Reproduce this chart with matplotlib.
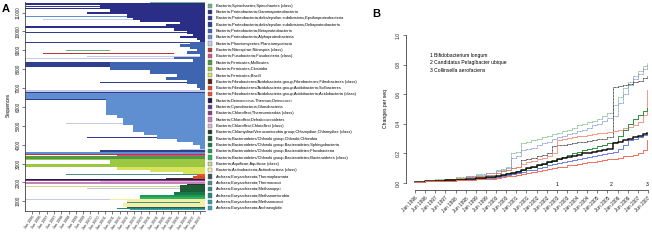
import matplotlib
matplotlib.use("Agg")
import matplotlib.pyplot as plt
from matplotlib.patches import Rectangle

plt.rcParams["font.family"] = ["Liberation Sans", "DejaVu Sans"]

DATE_LABELS = [
    "Jan 1996", "Jun 1996", "Jan 1997", "Jun 1997", "Jan 1998", "Jun 1998",
    "Jan 1999", "Jun 1999", "Jan 2000", "Jun 2000", "Jan 2001", "Jun 2001",
    "Jan 2002", "Jun 2002", "Jan 2003", "Jun 2003", "Jan 2004", "Jun 2004",
    "Jan 2005", "Jun 2005", "Jan 2006", "Jun 2006", "Jan 2007", "Jun 2007",
]

TAXA = [
    "Bacteria;Spirochaetes;Spirochaetes (class)",
    "Bacteria;Proteobacteria;Gammaproteobacteria",
    "Bacteria;Proteobacteria;delta/epsilon subdivisions;Epsilonproteobacteria",
    "Bacteria;Proteobacteria;delta/epsilon subdivisions;Deltaproteobacteria",
    "Bacteria;Proteobacteria;Betaproteobacteria",
    "Bacteria;Proteobacteria;Alphaproteobacteria",
    "Bacteria;Planctomycetes;Planctomycetacia",
    "Bacteria;Nitrospirae;Nitrospira (class)",
    "Bacteria;Fusobacteria;Fusobacteria (class)",
    "Bacteria;Firmicutes;Mollicutes",
    "Bacteria;Firmicutes;Clostridia",
    "Bacteria;Firmicutes;Bacilli",
    "Bacteria;Fibrobacteres/Acidobacteria group;Fibrobacteres;Fibrobacteres (class)",
    "Bacteria;Fibrobacteres/Acidobacteria group;Acidobacteria;Solibacteres",
    "Bacteria;Fibrobacteres/Acidobacteria group;Acidobacteria;Acidobacteria (class)",
    "Bacteria;Deinococcus-Thermus;Deinococci",
    "Bacteria;Cyanobacteria;Gloeobacteria",
    "Bacteria;Chloroflexi;Thermomicrobia (class)",
    "Bacteria;Chloroflexi;Dehalococcoidetes",
    "Bacteria;Chloroflexi;Chloroflexi (class)",
    "Bacteria;Chlamydiae/Verrucomicrobia group;Chlamydiae;Chlamydiae (class)",
    "Bacteria;Bacteroidetes/Chlorobi group;Chlorobi;Chlorobia",
    "Bacteria;Bacteroidetes/Chlorobi group;Bacteroidetes;Sphingobacteria",
    "Bacteria;Bacteroidetes/Chlorobi group;Bacteroidetes;Flavobacteria",
    "Bacteria;Bacteroidetes/Chlorobi group;Bacteroidetes;Bacteroidetes (class)",
    "Bacteria;Aquificae;Aquificae (class)",
    "Bacteria;Actinobacteria;Actinobacteria (class)",
    "Archaea;Euryarchaeota;Thermoplasmata",
    "Archaea;Euryarchaeota;Thermococci",
    "Archaea;Euryarchaeota;Methanopyri",
    "Archaea;Euryarchaeota;Methanomicrobia",
    "Archaea;Euryarchaeota;Methanococci",
    "Archaea;Euryarchaeota;Archaeoglobi",
]

TAXON_COLORS = [
    "#6fb58a", "#2b2e86", "#343a94", "#2d3f8e", "#3f64b0", "#5f8fd1",
    "#c6c8ea", "#b7373c", "#d2508c", "#4f9a45", "#9bc840", "#d7e35a",
    "#5c2418", "#d84a2a", "#e9532f", "#1f1d48", "#5c3c94", "#8b3b8e",
    "#c583b5", "#d7b4da", "#1f3b2d", "#1c5c36", "#19784a", "#1f9a55",
    "#2bb35f", "#c9d787", "#f3f0a3", "#2e5a5c", "#4f8c8a", "#2f8f8f",
    "#1f8a84", "#2c9fb0", "#39a2ae",
]

# panel A: sequence blocks (top, bottom, first date index, taxon), all run to A_END
A_END = 23.7
A_BLOCKS = [
    (11540, 11500, 16.2, 0),
    (11500, 11395, -1, 1), (11395, 11184, 9.3, 1), (11184, 11043, 10.7, 1),
    (11043, 10937, 7.5, 1), (10937, 10725, 13.0, 1), (10725, 10584, 13.9, 1),
    (10584, 10478, 14.8, 1), (10478, 10372, 20.3, 1), (10372, 10160, 18.4, 1),
    (10160, 10020, 19.4, 1), (10020, 9878, 21.2, 1), (9878, 9773, 22.1, 1),
    (9773, 9667, 20.3, 1), (9667, 9561, 22.6, 1), (9561, 9437, 23.0, 1),
    (9437, 9314, 21.6, 4), (9314, 9173, 20.3, 4), (9173, 9067, 21.6, 4),
    (9067, 8961, 22.6, 4), (8961, 8820, 21.2, 4), (8820, 8679, 23.0, 4),
    (8679, 8538, 19.4, 4), (8538, 8397, 22.1, 4), (8397, 7938, 10.7, 4),
    (7938, 7762, 16.2, 4), (7762, 7585, 19.8, 4), (7585, 7409, 18.4, 4),
    (7409, 7232, 21.2, 4), (7232, 7021, 22.6, 4), (7021, 6880, 23.0, 4),
    (6615, 6439, -1, 5), (6439, 5557, 10.2, 5), (5557, 5433, 11.6, 5),
    (5433, 5027, 12.5, 5), (5027, 4675, 13.9, 5), (4675, 4498, 15.3, 5),
    (4498, 4322, 17.1, 5), (4322, 4145, 19.8, 5), (4145, 3969, 22.1, 5),
    (3969, 3793, 23.0, 5),
    (3422, 3246, -1, 9), (3246, 3175, -1, 10), (3175, 2964, 10.7, 10),
    (2964, 2822, -1, 10), (2822, 2681, 11.6, 11), (2681, 2540, 16.2, 11),
    (2540, 2470, 20.7, 11),
    (2470, 2330, 22.6, 14), (2330, 2205, 22.1, 13),
    (1940, 1887, 21.2, 20), (1887, 1499, 20.3, 21), (1499, 1323, 19.4, 22),
    (1323, 1240, 14.8, 23), (1240, 1129, 14.8, 24),
    (1058, 953, 13.0, 26), (920, 706, 12.5, 26),
    (706, 635, 13.0, 27), (635, 582, 11.6, 30), (582, 529, 13.4, 32),
]

# panel A: single long-lived sequences (top, bottom, first index, last index, taxon)
A_LINES = [
    (11330, 11290, -1, 9.3, 2), (11254, 11200, -1, 10.7, 1),
    (11090, 11060, 4.7, 10.7, 6), (10796, 10740, -1, 13.0, 5),
    (10650, 10620, 1.5, 13.9, 6), (10420, 10390, 4.7, 20.3, 3),
    (10266, 10200, -1, 18.4, 1), (10100, 10070, 7.5, 19.4, 6),
    (9950, 9920, -1, 21.2, 3), (9720, 9690, 9.3, 20.3, 6),
    (9437, 9380, -1, 21.6, 3), (9240, 9210, -1, 20.3, 11),
    (9020, 8990, 4.7, 10.7, 0), (8860, 8830, 1.5, 19.4, 7),
    (8700, 8670, 7.5, 23.0, 6), (8580, 8550, -1, 19.4, 6),
    (8397, 8114, -1, 10.7, 3), (7700, 7670, 4.7, 19.8, 6),
    (7300, 7270, 9.3, 21.2, 3),
    (6880, 6800, -1, 23.7, 6), (6800, 6720, -1, 23.7, 3),
    (6720, 6615, -1, 23.7, 5), (6400, 6350, -1, 10.2, 3),
    (5800, 5770, -1, 10.2, 6), (5150, 5120, 4.7, 12.5, 6),
    (4700, 4670, 4.7, 7.5, 6), (4400, 4370, 7.5, 17.1, 2),
    (3793, 3704, 20.3, 23.7, 6), (3704, 3616, 9.3, 23.7, 3),
    (3616, 3528, -1, 23.7, 5), (3528, 3470, -1, 23.7, 7),
    (3470, 3422, 11.6, 23.7, 8), (3100, 3070, -1, 10.7, 11),
    (2470, 2420, 4.7, 22.6, 28), (2240, 2205, 18.4, 22.1, 12),
    (2205, 2152, -1, 23.7, 15), (2152, 2117, 4.7, 23.7, 16),
    (2117, 2082, -1, 23.7, 17), (2082, 2011, 9.3, 23.7, 19),
    (2011, 1940, -1, 23.7, 18), (1799, 1760, -1, 20.3, 25),
    (1700, 1670, 7.5, 20.3, 6), (1620, 1580, 4.7, 20.3, 25),
    (1400, 1370, 1.5, 19.4, 5), (1129, 1090, -1, 10.7, 6),
    (1129, 1090, 10.7, 23.7, 26), (1090, 1058, -1, 23.7, 26),
    (953, 920, 13.0, 23.0, 28), (953, 920, 23.0, 23.7, 26),
]

# panel B: cumulative changes per sequence, x = half-year tick index
B_X = [0, 1, 2, 3, 4, 5, 6, 7, 8, 8.5, 9, 9.5, 10, 10.5, 11, 11.5, 12, 12.5,
       13, 13.5, 14, 14.5, 15, 15.5, 16, 16.5, 17, 17.5, 18, 18.5, 19, 19.5,
       20, 20.5, 21, 21.5, 22, 22.5, 22.9]
green_all = [0.01, 0.015, 0.025, 0.03, 0.04, 0.05, 0.06, 0.07, 0.085, 0.095, 0.11, 0.20,
             0.21, 0.27, 0.28, 0.29, 0.30, 0.31, 0.32, 0.33, 0.34, 0.35, 0.36, 0.37,
             0.39, 0.40, 0.41, 0.42, 0.43, 0.45, 0.47, 0.53, 0.58, 0.64, 0.68, 0.72,
             0.76, 0.79, 0.81]
blue_all = [0.01, 0.015, 0.02, 0.028, 0.035, 0.045, 0.055, 0.065, 0.08, 0.09, 0.10, 0.17,
            0.18, 0.22, 0.23, 0.24, 0.26, 0.27, 0.28, 0.30, 0.31, 0.32, 0.33, 0.34,
            0.35, 0.36, 0.37, 0.39, 0.40, 0.42, 0.44, 0.45, 0.54, 0.60, 0.66, 0.70,
            0.74, 0.77, 0.79]
black_all = [0.01, 0.013, 0.018, 0.024, 0.03, 0.038, 0.046, 0.055, 0.07, 0.08, 0.09, 0.10,
             0.11, 0.155, 0.16, 0.17, 0.18, 0.19, 0.20, 0.25, 0.255, 0.26, 0.265, 0.27,
             0.275, 0.28, 0.285, 0.29, 0.295, 0.30, 0.31, 0.65, 0.655, 0.66, 0.67, 0.68,
             0.69, 0.71, 0.72]
red_all = [0.01, 0.014, 0.02, 0.026, 0.033, 0.04, 0.048, 0.057, 0.07, 0.08, 0.09, 0.10,
           0.11, 0.13, 0.14, 0.15, 0.16, 0.17, 0.18, 0.20, 0.29, 0.30, 0.305, 0.31,
           0.315, 0.32, 0.325, 0.33, 0.335, 0.34, 0.345, 0.35, 0.36, 0.37, 0.38, 0.39,
           0.41, 0.46, 0.63]
green_sub = [0.01, 0.012, 0.016, 0.02, 0.025, 0.03, 0.036, 0.043, 0.05, 0.055, 0.065, 0.07,
             0.08, 0.09, 0.10, 0.11, 0.12, 0.13, 0.14, 0.15, 0.16, 0.175, 0.19, 0.20,
             0.21, 0.22, 0.23, 0.24, 0.25, 0.26, 0.27, 0.28, 0.32, 0.36, 0.40, 0.43,
             0.46, 0.49, 0.51]
black_sub = [0.01, 0.012, 0.015, 0.018, 0.022, 0.027, 0.033, 0.04, 0.05, 0.055, 0.06, 0.07,
             0.075, 0.09, 0.10, 0.11, 0.12, 0.13, 0.14, 0.15, 0.16, 0.17, 0.175, 0.18,
             0.19, 0.20, 0.205, 0.21, 0.215, 0.22, 0.23, 0.27, 0.28, 0.29, 0.30, 0.31,
             0.32, 0.33, 0.34]
blue_sub = [0.01, 0.011, 0.014, 0.017, 0.02, 0.024, 0.029, 0.035, 0.043, 0.048, 0.053, 0.06,
            0.065, 0.075, 0.085, 0.09, 0.10, 0.11, 0.12, 0.13, 0.135, 0.14, 0.15, 0.155,
            0.16, 0.17, 0.175, 0.18, 0.19, 0.195, 0.20, 0.21, 0.23, 0.26, 0.29, 0.30,
            0.31, 0.325, 0.335]
red_sub = [0.01, 0.011, 0.013, 0.016, 0.019, 0.022, 0.026, 0.03, 0.036, 0.04, 0.045, 0.05,
           0.055, 0.06, 0.068, 0.075, 0.08, 0.088, 0.095, 0.10, 0.105, 0.11, 0.12, 0.125,
           0.13, 0.135, 0.14, 0.145, 0.15, 0.155, 0.16, 0.165, 0.17, 0.18, 0.185, 0.19,
           0.20, 0.22, 0.29]

B_MARK_X = [14, 19.4, 22.9]
B_MARK_LABELS = ["1", "2", "3"]
B_GENOMES = ["1 Bifidobacterium longum", "2 Candidatus Pelagibacter ubique",
             "3 Collinsella aerofaciens"]

W, H = 652, 246
AXIS_COLOR = "#444444"


def px_rect(x0, y0, x1, y1):
    return [x0 / W, 1 - y1 / H, (x1 - x0) / W, (y1 - y0) / H]


fig = plt.figure(figsize=(W / 100, H / 100), dpi=100)

# ---- panel A
ax_a = fig.add_axes(px_rect(25, 2, 205, 211))
for top, bottom, start, taxon in A_BLOCKS:
    ax_a.barh(bottom, A_END - start, left=start, height=top - bottom, align="edge",
              color=TAXON_COLORS[taxon], linewidth=0)
for top, bottom, start, end, taxon in A_LINES:
    ax_a.barh(bottom, end - start, left=start, height=top - bottom, align="edge",
              color=TAXON_COLORS[taxon], linewidth=0)
ax_a.set_xlim(-0.96, 23.7)
ax_a.set_ylim(490, 11560)
for side in ("top", "right"):
    ax_a.spines[side].set_visible(False)
for side in ("left", "bottom"):
    ax_a.spines[side].set_linewidth(0.6)
    ax_a.spines[side].set_color(AXIS_COLOR)
ax_a.set_yticks(range(1000, 11001, 1000))
ax_a.set_yticklabels([str(v) for v in range(1000, 11001, 1000)], rotation=90,
                     va="center", fontsize=3.4)
ax_a.set_xticks(range(len(DATE_LABELS)))
ax_a.set_xticklabels(DATE_LABELS, rotation=55, ha="right", rotation_mode="anchor",
                     fontsize=2.7)
ax_a.tick_params(length=2, width=0.5, pad=1, colors=AXIS_COLOR, labelcolor="#222222")
fig.text(8 / W, 1 - 105 / H, "Sequences", rotation=90, ha="center", va="center",
         fontsize=3.4)
fig.text(2 / W, 1 - 9 / H, "A", fontsize=8, fontweight="bold", va="center")

# legend of panel A, laid out in pixel coordinates
ax_leg = fig.add_axes(px_rect(204, 0, 400, 246))
ax_leg.set_xlim(204, 400)
ax_leg.set_ylim(246, 0)
ax_leg.axis("off")
for i, (name, color) in enumerate(zip(TAXA, TAXON_COLORS)):
    y = 5.6 + i * 6.33
    ax_leg.add_patch(Rectangle((208, y - 2.1), 4.2, 4.2, facecolor=color,
                               edgecolor="#666666", linewidth=0.3))
    ax_leg.text(216, y, name, fontsize=2.9, va="center", ha="left")

# ---- panel B
ax_b = fig.add_axes(px_rect(408, 30, 650, 186))
for side in ("top", "right"):
    ax_b.spines[side].set_visible(False)
ax_b.spines["left"].set_position(("outward", 1.5))
ax_b.spines["bottom"].set_position(("outward", 3))
ax_b.plot(B_X, green_all, drawstyle="steps-post", color="#6fb57a", lw=0.6, ls=(0, (1.2, 0.5)))
ax_b.plot(B_X, blue_all, drawstyle="steps-post", color="#7d8fd8", lw=0.6, ls=(0, (1.2, 0.5)))
ax_b.plot(B_X, black_all, drawstyle="steps-post", color="#333333", lw=0.6, ls=(0, (1.2, 0.5)))
ax_b.plot(B_X, red_all, drawstyle="steps-post", color="#f08a70", lw=0.6)
ax_b.plot(B_X, green_sub, drawstyle="steps-post", color="#2f8f3f", lw=0.7)
ax_b.plot(B_X, blue_sub, drawstyle="steps-post", color="#6f7fe0", lw=0.7)
ax_b.plot(B_X, black_sub, drawstyle="steps-post", color="#111111", lw=1.1)
ax_b.plot(B_X, red_sub, drawstyle="steps-post", color="#f07060", lw=0.7)
for x, label in zip(B_MARK_X, B_MARK_LABELS):
    ax_b.text(x, -0.012, label, fontsize=3.6, ha="center", va="center")
ax_b.set_xlim(-0.69, 23.2)
ax_b.set_ylim(-0.02, 1.034)
ax_b.spines["left"].set_bounds(0, 1)
ax_b.spines["bottom"].set_bounds(0, 23)
for side in ("left", "bottom"):
    ax_b.spines[side].set_linewidth(0.6)
    ax_b.spines[side].set_color(AXIS_COLOR)
ax_b.set_yticks([0, 0.2, 0.4, 0.6, 0.8, 1.0])
ax_b.set_yticklabels(["0.0", "0.2", "0.4", "0.6", "0.8", "1.0"], rotation=90,
                     va="center", fontsize=3.6)
ax_b.set_xticks(range(len(DATE_LABELS)))
ax_b.set_xticklabels(DATE_LABELS, rotation=45, ha="right", rotation_mode="anchor",
                     fontsize=3.4)
ax_b.tick_params(length=2.5, width=0.5, pad=1.5, colors=AXIS_COLOR, labelcolor="#222222")
fig.text(386 / W, 1 - 108 / H, "Changes per seq", rotation=90, ha="center",
         va="center", fontsize=3.6)
for i, name in enumerate(B_GENOMES):
    fig.text(430 / W, 1 - (55 + i * 7.5) / H, name, fontsize=3.6, va="center")
fig.text(372 / W, 1 - 14 / H, "B", fontsize=8, fontweight="bold", va="center")

fig.savefig("out.png", dpi=100)
